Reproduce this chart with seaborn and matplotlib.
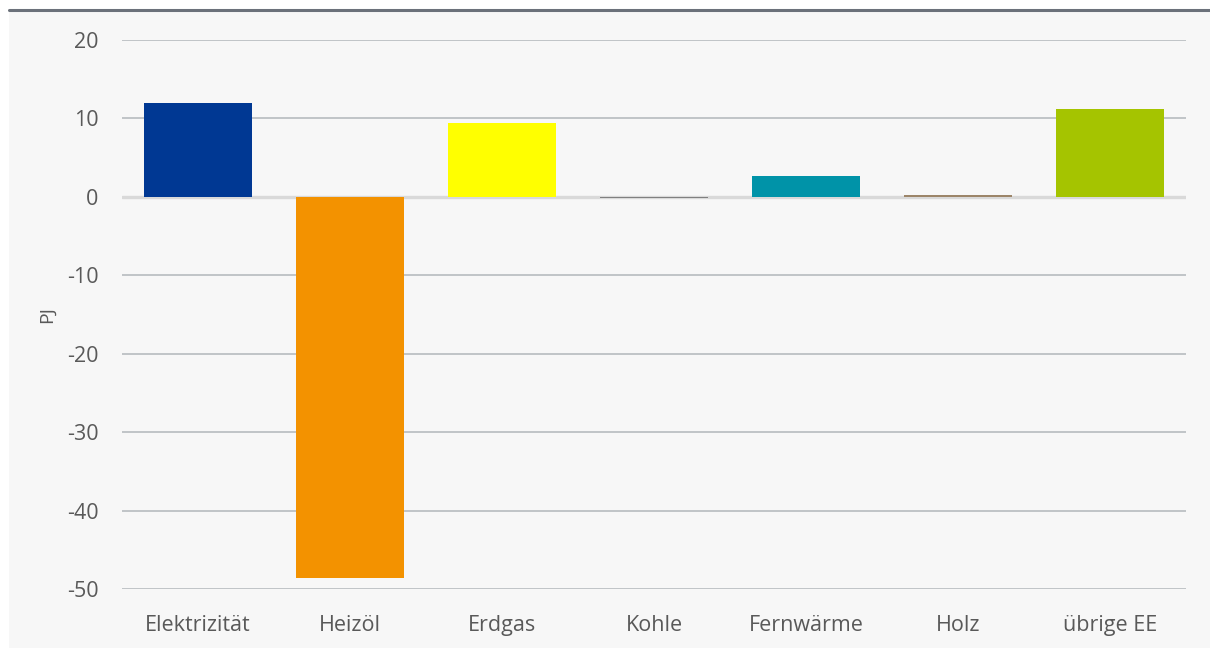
import pandas as pd
import matplotlib.pyplot as plt
import seaborn as sns
from matplotlib.patches import Rectangle
from matplotlib.lines import Line2D

categories = ["Elektrizität", "Heizöl", "Erdgas", "Kohle", "Fernwärme", "Holz", "übrige EE"]
values = [12.0, -48.6, 9.4, -0.15, 2.6, 0.25, 11.2]
colors = ["#003893", "#f39200", "#ffff00", "#808080", "#0093a8", "#9c8569", "#a5c400"]
yticks = [20, 10, 0, -10, -20, -30, -40, -50]

bg = "#f7f7f7"
text_col = "#595959"

sns.set_style("white")
plt.rcParams['font.family'] = ['Open Sans', 'DejaVu Sans']
plt.rcParams['axes.unicode_minus'] = False

df = pd.DataFrame({"cat": categories, "val": values})

W, H = 1210, 648
fig = plt.figure(figsize=(12.1, 6.48), dpi=100, facecolor="white")
# grey panel with dark top rule
fig.patches.append(Rectangle((9 / W, 0), 1 - 9 / W, 1 - 10 / H, transform=fig.transFigure,
                             facecolor=bg, edgecolor="none", zorder=-10))
fig.add_artist(Line2D([9 / W, 1], [1 - 10 / H, 1 - 10 / H], color="#6b717a", lw=2.2))

ax = fig.add_axes([122 / W, 1 - 589 / H, (1186 - 122) / W, (589 - 40) / H])
ax.set_facecolor(bg)

sns.barplot(data=df, x="cat", y="val", hue="cat", palette=colors, dodge=False,
            width=0.71, saturation=1, legend=False, ax=ax, zorder=3, linewidth=0)

ax.set_ylim(-50, 20)
ax.set_yticks(yticks)
ax.set_xlim(-0.5, len(categories) - 0.5)
for t in yticks:
    ax.axhline(t, color="#d9d9d9" if t == 0 else "#bcc0c4", lw=2.4 if t == 0 else 1.3, zorder=1)

for s in ax.spines.values():
    s.set_visible(False)
ax.tick_params(axis="both", length=0, labelsize=15.5, colors=text_col)
ax.tick_params(axis="y", pad=17)
ax.tick_params(axis="x", pad=19)
ax.set_xlabel("")
ax.set_ylabel("PJ", fontsize=14, color=text_col, labelpad=8)

fig.savefig("out.png", dpi=100, facecolor=fig.get_facecolor())
